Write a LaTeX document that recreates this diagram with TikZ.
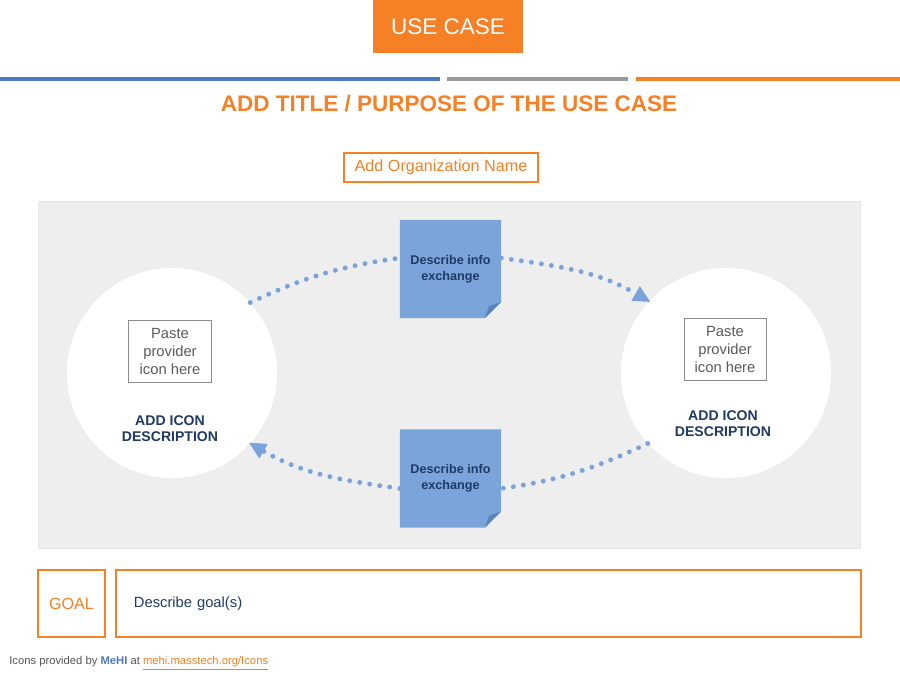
\documentclass[tikz,border=0pt]{standalone}
\usepackage{fontspec}
\setmainfont{Liberation Sans}
\usetikzlibrary{arrows.meta}

\definecolor{caseorange}{HTML}{F58025}
\definecolor{barblue}{HTML}{4F79C0}
\definecolor{bargray}{HTML}{9A9A9A}
\definecolor{panelgray}{HTML}{EDEEED}
\definecolor{notefill}{HTML}{7BA5DA}
\definecolor{notefold}{HTML}{5B84BC}
\definecolor{dotblue}{HTML}{79A3DA}
\definecolor{navy}{HTML}{1F3A66}
\definecolor{pastegray}{HTML}{5A5A5A}
\definecolor{footgray}{HTML}{555555}
\definecolor{meblue}{HTML}{4F79C0}

\begin{document}
\begin{tikzpicture}[
    x=0.025cm, y=0.025cm,
    bar/.style={line width=2.85pt},
    frame/.style={draw=caseorange,line width=1pt},
    rond/.style={circle,fill=white,inner sep=0pt,minimum size=5.25cm},
    iconbox/.style={draw=bargray!90!black,line width=0.7pt,align=center,
                    text=pastegray,inner sep=0pt,
                    minimum width=2.05cm,minimum height=1.55cm,
                    font=\fontsize{10.5}{12.8}\selectfont},
    desc/.style={align=center,text=navy,
                 font=\bfseries\fontsize{10}{11.5}\selectfont},
    note/.style={inner sep=0pt,minimum width=2.525cm,minimum height=2.45cm,
                 align=center,text=navy,
                 font=\bfseries\fontsize{9}{11.5}\selectfont,
                 path picture={
                   \fill[notefill] (path picture bounding box.north west)
                     -- (path picture bounding box.north east)
                     -- ([yshift=0.4cm]path picture bounding box.south east)
                     -- ([xshift=-0.4cm]path picture bounding box.south east)
                     -- (path picture bounding box.south west) -- cycle;
                   \fill[notefold] ([yshift=0.4cm]path picture bounding box.south east)
                     -- ([xshift=-0.4cm]path picture bounding box.south east)
                     -- ([xshift=-0.3cm,yshift=0.3cm]path picture bounding box.south east)
                     -- cycle;}},
    dots/.style={draw=dotblue,line width=3.5pt,line cap=round,
                 dash pattern=on 0pt off 7.2pt},
    tip/.style={-{Triangle[length=0.42cm,width=0.42cm,line width=0pt,
                           fill=dotblue,sep=-1pt]}}]

  \useasboundingbox (0,0) rectangle (900,-680);

  % header
  \node[fill=caseorange,text=white,minimum width=3.75cm,minimum height=1.325cm,
        font=\fontsize{16}{19}\selectfont,anchor=north] (usecase) at (448,0) {USE CASE};
  \draw[bar,barblue]    (0,-79)   -- (440,-79);
  \draw[bar,bargray]    (447,-79) -- (628,-79);
  \draw[bar,caseorange] (636,-79) -- (900,-79);

  \node[text=caseorange,font=\bfseries\fontsize{16}{19}\selectfont] (title)
    at (449,-104) {ADD TITLE / PURPOSE OF THE USE CASE};
  \node[frame,text=caseorange,minimum width=4.85cm,minimum height=0.725cm,
        font=\fontsize{11.5}{14}\selectfont] (org) at (441,-167.5) {Add Organization Name};

  % exchange panel
  \filldraw[fill=panelgray,draw=black!10,line width=0.4pt] (38,-201) rectangle (860,-548);

  \node[rond] (lc) at (172,-373) {};
  \node[rond] (rc) at (726,-373) {};

  \node[iconbox] (licon) at (170,-351) {Paste\\provider\\icon here};
  \node[iconbox] (ricon) at (725,-349) {Paste\\provider\\icon here};
  \node[desc] (ldesc) at (170,-429) {ADD ICON\\DESCRIPTION};
  \node[desc] (rdesc) at (723,-424) {ADD ICON\\DESCRIPTION};

  \node[note] (tn) at (450.5,-269)   {Describe info\\exchange};
  \node[note] (bn) at (450.5,-478.5) {Describe info\\exchange};

  \draw[dots]     (lc.42) to[out=25,in=188] ([yshift=0.275cm]tn.west);
  \draw[dots,tip] ([yshift=0.275cm]tn.east) to[out=-8,in=150] (rc.137);
  \draw[dots]     (rc.222) to[out=205,in=8] ([yshift=-0.25cm]bn.east);
  \draw[dots,tip] ([yshift=-0.25cm]bn.west) to[out=172,in=-30] (lc.-42);

  % goal
  \node[frame,text=caseorange,minimum width=1.675cm,minimum height=1.675cm,
        font=\fontsize{11.5}{14}\selectfont] (goal) at (71.5,-603.5) {GOAL};
  \node[frame,text=navy,minimum height=1.675cm,inner xsep=0.45cm,
        text width=17.725cm,align=left,
        font=\fontsize{10.5}{13}\selectfont] (goaltext) at (488.5,-603.5) {Describe goal(s)};

  \node[anchor=west,text=footgray,inner sep=0pt,font=\fontsize{8}{10}\selectfont] (credit)
    at (9,-663) {Icons provided by \textcolor{meblue}{\textbf{MeHI}} at
    \textcolor{caseorange}{\underline{mehi.masstech.org/Icons}}};

\end{tikzpicture}
\end{document}
